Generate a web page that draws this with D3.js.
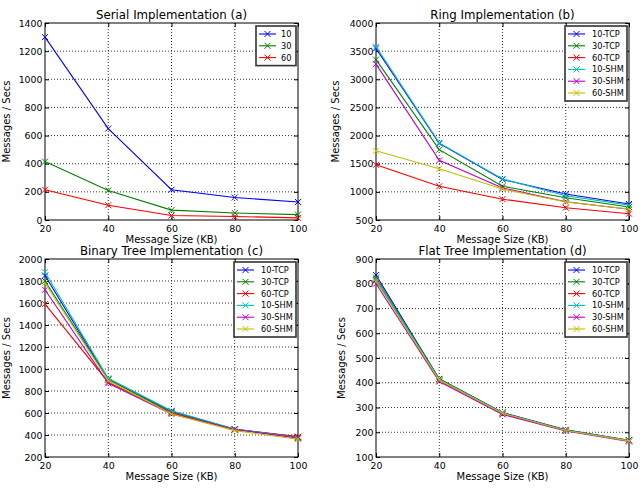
<!DOCTYPE html>
<html>
<head>
<meta charset="utf-8">
<script src="https://cdn.jsdelivr.net/npm/d3@7"></script>
<style>
  body { margin: 0; background: #fff; }
  text { font-family: "DejaVu Sans", sans-serif; fill: #000; }
</style>
</head>
<body>
<svg id="chart" width="644" height="498"></svg>
<script>
// message sizes (KB) on x axis
const sizes = [20, 40, 60, 80, 100];

// (a) serial
const serialNames = ["10", "30", "60"];
const serial10 = [1300, 650, 215, 160, 128];
const serial30 = [415, 210, 70, 50, 38];
const serial60 = [215, 105, 32, 25, 15];

// shared legend names for b, c, d
const commNames = ["10-TCP", "30-TCP", "60-TCP", "10-SHM", "30-SHM", "60-SHM"];

// (b) ring
const ring10tcp = [3550, 1860, 1220, 962, 784];
const ring30tcp = [3350, 1750, 1100, 896, 731];
const ring60tcp = [1480, 1100, 870, 718, 612];
const ring10shm = [3580, 1870, 1230, 930, 765];
const ring30shm = [3270, 1560, 1070, 825, 690];
const ring60shm = [1730, 1410, 1050, 820, 695];

// (c) binary tree
const bin10tcp = [1850, 905, 615, 452, 382];
const bin30tcp = [1800, 905, 605, 450, 378];
const bin60tcp = [1590, 880, 600, 450, 385];
const bin10shm = [1880, 915, 620, 455, 375];
const bin30shm = [1720, 870, 590, 452, 370];
const bin60shm = [1780, 895, 590, 440, 362];

// (d) flat tree
const flat10tcp = [835, 415, 280, 210, 168];
const flat30tcp = [825, 416, 279, 209, 167];
const flat60tcp = [815, 410, 276, 207, 165];
const flat10shm = [820, 413, 278, 208, 166];
const flat30shm = [800, 405, 272, 205, 163];
const flat60shm = [810, 411, 277, 207, 165];

const colors = ["#0000ff", "#008000", "#ff0000", "#00bfbf", "#bf00bf", "#bfbf00"];

const svg = d3.select("#chart");

function drawPanel(opt) {
  const g = svg.append("g")
    .attr("transform", "translate(" + opt.left + "," + opt.top + ")");
  const w = opt.width, h = opt.height;

  const x = d3.scaleLinear().domain([20, 100]).range([0, w]);
  const y = d3.scaleLinear().domain(opt.yDomain).range([h, 0]);
  const yTicks = d3.range(opt.yDomain[0], opt.yDomain[1] + 1, opt.yStep);

  // dotted grid
  g.append("g").selectAll("line").data(sizes.slice(1, -1)).enter().append("line")
    .attr("x1", d => x(d)).attr("x2", d => x(d))
    .attr("y1", 0).attr("y2", h)
    .attr("stroke", "#000").attr("stroke-width", 0.8).attr("stroke-dasharray", "1,2");
  g.append("g").selectAll("line").data(yTicks.slice(1, -1)).enter().append("line")
    .attr("x1", 0).attr("x2", w)
    .attr("y1", d => y(d)).attr("y2", d => y(d))
    .attr("stroke", "#000").attr("stroke-width", 0.8).attr("stroke-dasharray", "1,2");

  // axes with inward ticks
  const fmt = d3.format("d");
  const ax = [
    [d3.axisBottom(x).tickValues(sizes).tickFormat(fmt), "translate(0," + h + ")", 5],
    [d3.axisTop(x).tickValues(sizes).tickFormat(""), null, 0],
    [d3.axisLeft(y).tickValues(yTicks).tickFormat(fmt), null, 2.5],
    [d3.axisRight(y).tickValues(yTicks).tickFormat(""), "translate(" + w + ",0)", 0]
  ];
  ax.forEach(function(a) {
    const axis = a[0].tickSizeInner(-4).tickSizeOuter(0).tickPadding(a[2]);
    const ag = g.append("g").call(axis);
    if (a[1]) ag.attr("transform", a[1]);
    ag.select(".domain").remove();
    ag.selectAll("line").attr("stroke", "#000");
    ag.selectAll("text").style("font-size", "9.4px").style("font-family", "DejaVu Sans, sans-serif");
  });

  g.append("rect").attr("width", w).attr("height", h)
    .attr("fill", "none").attr("stroke", "#000").attr("stroke-width", 1);

  // series lines and x markers
  const line = d3.line().x((d, i) => x(sizes[i])).y(d => y(d));
  opt.series.forEach(function(s, k) {
    g.append("path").datum(s)
      .attr("d", line)
      .attr("fill", "none").attr("stroke", colors[k]).attr("stroke-width", 1.1);
    g.append("g").selectAll("path").data(s).enter().append("path")
      .attr("d", "M-3,-3L3,3M-3,3L3,-3")
      .attr("transform", (d, i) => "translate(" + x(sizes[i]) + "," + y(d) + ")")
      .attr("stroke", colors[k]).attr("stroke-width", 1);
  });

  // title and labels
  g.append("text").attr("x", w / 2).attr("y", -4)
    .attr("text-anchor", "middle").style("font-size", "11.8px").text(opt.title);
  g.append("text").attr("x", w / 2).attr("y", h + 23)
    .attr("text-anchor", "middle").style("font-size", "10px").text("Message Size (KB)");
  g.append("text")
    .attr("transform", "translate(" + opt.ylabelX + "," + (h / 2) + ") rotate(-90)")
    .attr("text-anchor", "middle").style("font-size", "10px").text("Messages / Secs");

  // legend
  const lg = g.append("g")
    .attr("transform", "translate(" + (w - opt.legendW - 2) + ",3)");
  const rowH = 11.8;
  lg.append("rect").attr("width", opt.legendW).attr("height", 8 + (opt.names.length - 1) * rowH + 8)
    .attr("fill", "#fff").attr("stroke", "#333").attr("stroke-width", 1.6);
  opt.names.forEach(function(n, k) {
    const ry = 8 + k * rowH;
    lg.append("line").attr("x1", 3).attr("x2", 20).attr("y1", ry).attr("y2", ry)
      .attr("stroke", colors[k]).attr("stroke-width", 1.1);
    lg.append("path").attr("d", "M-3,-3L3,3M-3,3L3,-3")
      .attr("transform", "translate(11.5," + ry + ")")
      .attr("stroke", colors[k]).attr("stroke-width", 1);
    lg.append("text").attr("x", opt.legendTextX).attr("y", ry + 3)
      .style("font-size", "8.2px").text(n);
  });
}

drawPanel({
  left: 45, top: 23, width: 253, height: 197,
  yDomain: [0, 1400], yStep: 200, ylabelX: -35,
  title: "Serial Implementation (a)",
  series: [serial10, serial30, serial60], names: serialNames,
  legendW: 40, legendTextX: 25
});
drawPanel({
  left: 376, top: 23, width: 253, height: 197,
  yDomain: [500, 4000], yStep: 500, ylabelX: -37,
  title: "Ring Implementation (b)",
  series: [ring10tcp, ring30tcp, ring60tcp, ring10shm, ring30shm, ring60shm],
  names: commNames, legendW: 62, legendTextX: 27
});
drawPanel({
  left: 45, top: 259, width: 253, height: 198,
  yDomain: [200, 2000], yStep: 200, ylabelX: -35,
  title: "Binary Tree Implementation (c)",
  series: [bin10tcp, bin30tcp, bin60tcp, bin10shm, bin30shm, bin60shm],
  names: commNames, legendW: 62, legendTextX: 27
});
drawPanel({
  left: 376, top: 259, width: 253, height: 198,
  yDomain: [100, 900], yStep: 100, ylabelX: -31,
  title: "Flat Tree Implementation (d)",
  series: [flat10tcp, flat30tcp, flat60tcp, flat10shm, flat30shm, flat60shm],
  names: commNames, legendW: 62, legendTextX: 27
});
</script>
</body>
</html>
